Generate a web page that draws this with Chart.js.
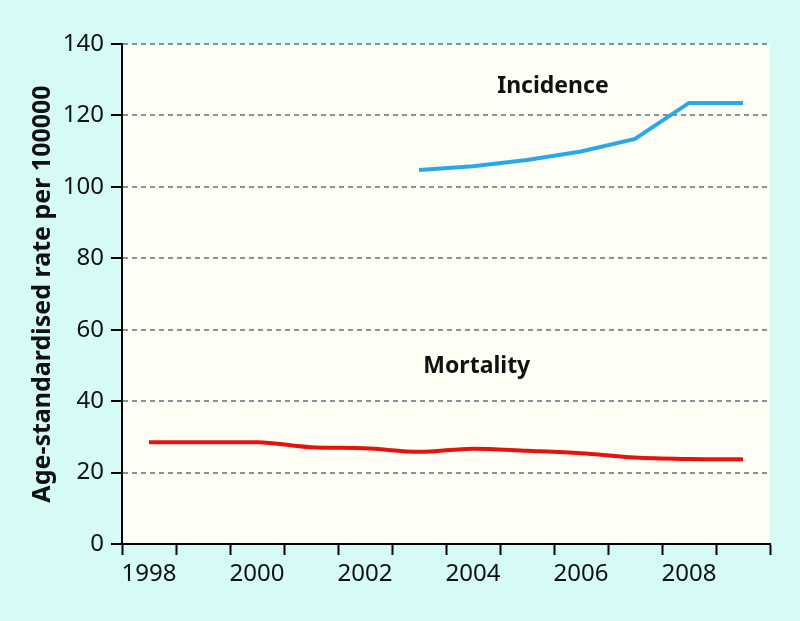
<!DOCTYPE html>
<html>
<head>
<meta charset="utf-8">
<script src="https://cdn.jsdelivr.net/npm/chart.js@4.4.1/dist/chart.umd.min.js"></script>
<style>
    html, body { margin: 0; padding: 0; background: #d6fbf6; }
    #wrap { width: 800px; height: 621px; }
</style>
</head>
<body>
<div id="wrap"><canvas id="rateChart" width="800" height="621"></canvas></div>
<script>
// 年份与数据
const years = ['1998', '1999', '2000', '2001', '2002', '2003', '2004', '2005', '2006', '2007', '2008', '2009'];
const mortality = [28.5, 28.5, 28.5, 27.1, 26.8, 25.8, 26.7, 26.1, 25.4, 24.2, 23.8, 23.7];
const incidence = [null, null, null, null, null, 104.7, 105.8, 107.5, 109.9, 113.4, 123.5, 123.5];
const yTicks = [0, 20, 40, 60, 80, 100, 120, 140];

// 图中文字标注 (x 为年份索引, y 为数值)
const noteTexts = ['Incidence', 'Mortality'];
const noteX = [7.48, 6.07];
const noteY = [128, 49.6];

const FONT = "'Noto Sans', 'Open Sans', sans-serif";

// 绘图区底色
const plotBg = {
    id: 'plotBg',
    beforeDraw(chart) {
        const { ctx, chartArea: a } = chart;
        ctx.save();
        ctx.fillStyle = '#d6fbf6';
        ctx.fillRect(0, 0, chart.width, chart.height);
        ctx.fillStyle = '#fffef5';
        ctx.fillRect(a.left, a.top, a.right - a.left, a.bottom - a.top);
        ctx.restore();
    }
};

// 线条标签
const notes = {
    id: 'notes',
    afterDatasetsDraw(chart) {
        const { ctx, scales } = chart;
        ctx.save();
        ctx.font = 'bold 23px ' + FONT;
        ctx.fillStyle = '#111';
        ctx.textAlign = 'center';
        ctx.textBaseline = 'middle';
        noteTexts.forEach((t, i) => {
            ctx.fillText(t, scales.x.getPixelForValue(noteX[i]), scales.y.getPixelForValue(noteY[i]));
        });
        ctx.restore();
    }
};

const ctx = document.getElementById('rateChart').getContext('2d');

new Chart(ctx, {
    type: 'line',
    data: {
        labels: years,
        datasets: [
            {
                label: 'Incidence',
                data: incidence,
                borderColor: '#2aa7e6',
                borderWidth: 4,
                pointRadius: 0,
                tension: 0,
                spanGaps: false
            },
            {
                label: 'Mortality',
                data: mortality,
                borderColor: '#e3140d',
                borderWidth: 4,
                pointRadius: 0,
                cubicInterpolationMode: 'monotone'
            }
        ]
    },
    options: {
        responsive: false,
        animation: false,
        layout: { padding: { left: 28, top: 44, right: 30, bottom: 0 } },
        plugins: {
            legend: { display: false },
            tooltip: { enabled: false }
        },
        scales: {
            x: {
                type: 'category',
                offset: true,
                grid: {
                    offset: true,
                    drawOnChartArea: false,
                    tickLength: 11,
                    tickWidth: 2,
                    tickColor: '#000'
                },
                border: { color: '#000', width: 2 },
                ticks: {
                    autoSkip: false,
                    maxRotation: 0,
                    color: '#111',
                    padding: 5,
                    font: { family: FONT, size: 24 },
                    callback: function (v, i) {
                        const y = Number(years[i]);
                        return y % 2 === 0 ? years[i] : '';
                    }
                },
                afterFit(scale) { scale.height = 77; }
            },
            y: {
                min: 0,
                max: 140,
                afterBuildTicks(scale) { scale.ticks = yTicks.map(v => ({ value: v })); },
                grid: {
                    color: (c) => c.tick && c.tick.value === 0 ? 'rgba(0,0,0,0)' : '#84949a',
                    lineWidth: 2,
                    tickLength: 11,
                    tickWidth: 2,
                    tickColor: '#000',
                    tickBorderDash: [1, 0]
                },
                border: { color: '#000', width: 2, dash: [5, 4] },
                ticks: {
                    color: '#111',
                    padding: 7,
                    font: { family: FONT, size: 24 }
                },
                title: {
                    display: true,
                    text: 'Age-standardised rate per 100000',
                    color: '#111',
                    font: { family: FONT, size: 25, weight: 'bold' },
                    padding: 0
                },
                afterFit(scale) { scale.width = 94; }
            }
        }
    },
    plugins: [plotBg, notes]
});
</script>
</body>
</html>
